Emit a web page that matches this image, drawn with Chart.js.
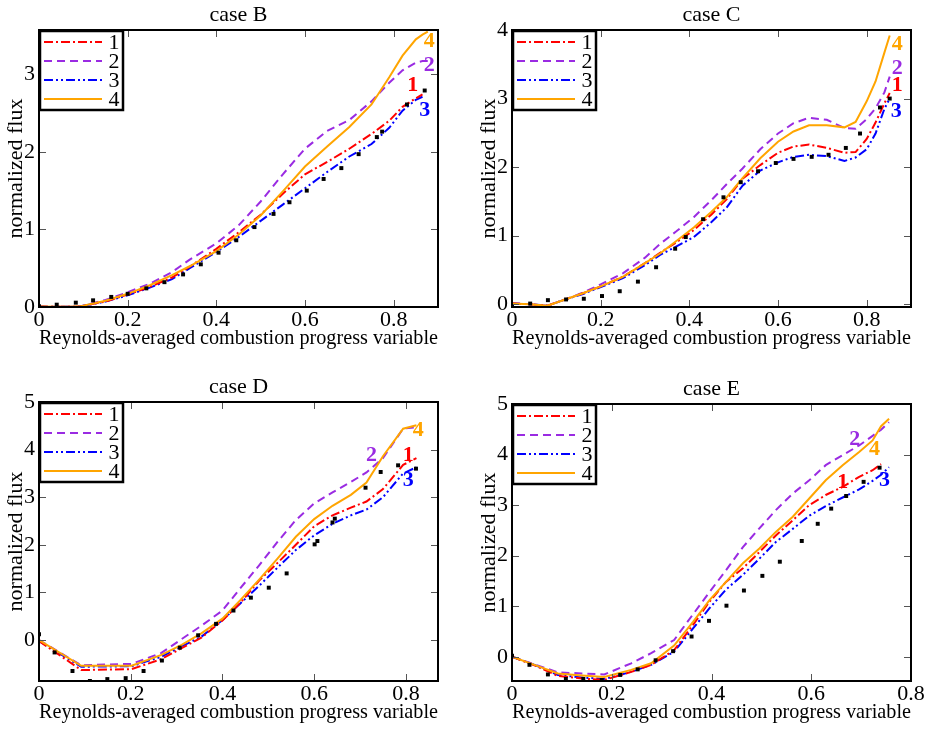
<!DOCTYPE html>
<html>
<head>
<meta charset="utf-8">
<script src="https://cdn.jsdelivr.net/npm/chart.js@4.4.1/dist/chart.umd.min.js"></script>
<style>
  body { margin: 0; background: #fff; }
  .wrap { position: relative; width: 937px; height: 729px; background: #fff; }
  .cell { position: absolute; }
</style>
</head>
<body>
<div class="wrap">
  <div class="cell" style="left:0;top:0"><canvas id="caseB" width="468" height="365"></canvas></div>
  <div class="cell" style="left:468px;top:0"><canvas id="caseC" width="469" height="365"></canvas></div>
  <div class="cell" style="left:0;top:365px"><canvas id="caseD" width="468" height="364"></canvas></div>
  <div class="cell" style="left:468px;top:365px"><canvas id="caseE" width="469" height="364"></canvas></div>
</div>
<script>
const serif = "'Liberation Serif', 'Times New Roman', serif";
Chart.defaults.font.family = serif;
Chart.defaults.color = "#000";

const seriesNames = ["1", "2", "3", "4"];
const seriesColors = ["#ff0000", "#9a2be2", "#0000ff", "#ffa500"];
const seriesDashes = [[9, 3, 2, 3], [8, 5], [9, 3, 2, 3, 2, 3], []];

// case B
const xB = [0, 0.05, 0.09, 0.15, 0.2, 0.25, 0.3, 0.34, 0.4, 0.45, 0.5, 0.55, 0.6, 0.65, 0.7, 0.75, 0.79, 0.82, 0.85, 0.865, 0.877];
const b1 = [0.005, 0.003, 0.005, 0.07, 0.16, 0.26, 0.38, 0.52, 0.75, 0.96, 1.19, 1.46, 1.71, 1.87, 2.04, 2.23, 2.40, 2.58, 2.69, 2.74, null];
const b2 = [0.005, 0.004, 0.005, 0.09, 0.19, 0.30, 0.45, 0.61, 0.82, 1.05, 1.36, 1.71, 2.04, 2.27, 2.41, 2.65, 2.89, 3.05, 3.15, 3.17, 3.17];
const b3 = [0.005, 0.003, 0.005, 0.07, 0.15, 0.25, 0.36, 0.50, 0.71, 0.90, 1.11, 1.32, 1.53, 1.74, 1.94, 2.10, 2.31, 2.53, 2.67, 2.71, null];
const b4 = [0.005, 0.003, 0.005, 0.08, 0.17, 0.28, 0.41, 0.525, 0.72, 0.93, 1.18, 1.49, 1.81, 2.07, 2.32, 2.61, 2.96, 3.24, 3.45, 3.51, 3.55];
const refXB = [0, 0.04, 0.083, 0.122, 0.163, 0.2, 0.242, 0.283, 0.325, 0.365, 0.405, 0.445, 0.486, 0.529, 0.565, 0.604, 0.642, 0.682, 0.721, 0.762, 0.774, 0.83, 0.87];
const refYB = [0.01, 0.03, 0.056, 0.086, 0.13, 0.17, 0.24, 0.32, 0.42, 0.55, 0.70, 0.86, 1.03, 1.20, 1.35, 1.50, 1.65, 1.79, 1.97, 2.19, 2.26, 2.61, 2.79];
const tagsB = [[0.843, 2.86], [0.88, 3.12], [0.87, 2.54], [0.88, 3.42]];

// case C
const xC = [0, 0.04, 0.08, 0.12, 0.16, 0.2, 0.25, 0.3, 0.334, 0.37, 0.41, 0.45, 0.484, 0.52, 0.56, 0.6, 0.635, 0.67, 0.71, 0.75, 0.775, 0.8, 0.82, 0.84, 0.852];
const c1 = [0.01, 0.0, -0.02, 0.07, 0.16, 0.26, 0.40, 0.60, 0.75, 0.90, 1.08, 1.31, 1.53, 1.83, 2.03, 2.21, 2.30, 2.33, 2.28, 2.21, 2.22, 2.41, 2.65, 2.93, 3.08];
const c2 = [0.02, 0.0, -0.02, 0.07, 0.17, 0.29, 0.45, 0.68, 0.88, 1.06, 1.27, 1.52, 1.75, 1.98, 2.26, 2.49, 2.64, 2.72, 2.69, 2.57, 2.56, 2.70, 2.86, 3.09, 3.32];
const c3 = [0.01, 0.0, -0.02, 0.07, 0.15, 0.25, 0.38, 0.57, 0.72, 0.84, 0.98, 1.20, 1.41, 1.73, 1.95, 2.07, 2.15, 2.18, 2.16, 2.09, 2.14, 2.26, 2.49, 2.85, 3.0];
const c4 = [0.01, 0.0, -0.02, 0.07, 0.16, 0.26, 0.40, 0.60, 0.74, 0.92, 1.12, 1.35, 1.56, 1.84, 2.13, 2.37, 2.52, 2.61, 2.61, 2.58, 2.66, 2.96, 3.25, 3.67, 3.92];
const refXC = [0, 0.041, 0.081, 0.122, 0.162, 0.203, 0.243, 0.284, 0.325, 0.368, 0.392, 0.431, 0.477, 0.516, 0.555, 0.595, 0.635, 0.676, 0.714, 0.753, 0.785, 0.83, 0.852];
const refYC = [-0.03, 0.01, 0.06, 0.07, 0.08, 0.12, 0.19, 0.33, 0.54, 0.81, 0.98, 1.24, 1.56, 1.78, 1.94, 2.06, 2.12, 2.15, 2.18, 2.28, 2.49, 2.87, 3.0];
const tagsC = [[0.869, 3.20], [0.869, 3.44], [0.867, 2.81], [0.869, 3.79]];

// case D
const xD = [0, 0.092, 0.202, 0.267, 0.311, 0.354, 0.4, 0.44, 0.48, 0.52, 0.56, 0.6, 0.64, 0.68, 0.714, 0.75, 0.794, 0.823];
const d1 = [-0.02, -0.63, -0.61, -0.40, -0.17, 0.05, 0.41, 0.79, 1.25, 1.62, 2.00, 2.39, 2.62, 2.78, 2.91, 3.17, 3.68, 3.82];
const d2 = [0, -0.53, -0.50, -0.27, 0.02, 0.30, 0.62, 1.10, 1.57, 2.06, 2.52, 2.87, 3.10, 3.32, 3.52, 3.82, 4.44, 4.47];
const d3 = [-0.02, -0.56, -0.55, -0.35, -0.13, 0.07, 0.42, 0.78, 1.14, 1.52, 1.89, 2.20, 2.44, 2.62, 2.74, 3.00, 3.50, 3.63];
const d4 = [0, -0.54, -0.54, -0.31, -0.10, 0.14, 0.45, 0.85, 1.27, 1.71, 2.17, 2.54, 2.82, 3.05, 3.31, 3.86, 4.44, 4.51];
const refXD = [0, 0.034, 0.073, 0.111, 0.149, 0.189, 0.228, 0.268, 0.307, 0.347, 0.386, 0.424, 0.462, 0.501, 0.54, 0.601, 0.607, 0.64, 0.645, 0.712, 0.745, 0.783, 0.822];
const refYD = [0.12, -0.26, -0.65, -0.86, -0.82, -0.80, -0.65, -0.43, -0.16, 0.10, 0.34, 0.62, 0.89, 1.10, 1.40, 2.01, 2.08, 2.47, 2.55, 3.20, 3.53, 3.67, 3.60];
const tagsD = [[0.805, 3.88], [0.725, 3.88], [0.805, 3.35], [0.827, 4.40]];

// case E
const xE = [0, 0.045, 0.092, 0.14, 0.185, 0.239, 0.279, 0.325, 0.363, 0.396, 0.429, 0.463, 0.496, 0.529, 0.563, 0.596, 0.629, 0.663, 0.696, 0.723, 0.74, 0.756];
const e1 = [0, -0.17, -0.38, -0.43, -0.46, -0.30, -0.16, 0.13, 0.63, 1.09, 1.48, 1.75, 2.07, 2.40, 2.70, 3.00, 3.20, 3.36, 3.56, 3.69, 3.81, null];
const e2 = [0, -0.15, -0.31, -0.33, -0.35, -0.13, 0.07, 0.33, 0.84, 1.28, 1.71, 2.17, 2.54, 2.90, 3.23, 3.49, 3.79, 3.99, 4.18, 4.37, 4.49, 4.64];
const e3 = [0, -0.16, -0.36, -0.41, -0.44, -0.30, -0.16, 0.10, 0.56, 0.96, 1.33, 1.62, 1.94, 2.27, 2.53, 2.79, 2.98, 3.15, 3.31, 3.48, 3.60, 3.75];
const e4 = [0, -0.16, -0.33, -0.37, -0.40, -0.26, -0.13, 0.22, 0.69, 1.12, 1.48, 1.85, 2.14, 2.47, 2.77, 3.13, 3.49, 3.79, 4.05, 4.28, 4.56, 4.71];
const refXE = [0, 0.035, 0.072, 0.108, 0.143, 0.18, 0.217, 0.252, 0.288, 0.323, 0.36, 0.395, 0.43, 0.465, 0.502, 0.537, 0.581, 0.613, 0.64, 0.67, 0.705, 0.737];
const refYE = [0.02, -0.16, -0.35, -0.44, -0.44, -0.46, -0.36, -0.25, -0.07, 0.11, 0.40, 0.71, 1.01, 1.31, 1.60, 1.88, 2.29, 2.63, 2.93, 3.18, 3.46, 3.74];
const tagsE = [[0.663, 3.46], [0.687, 4.30], [0.747, 3.49], [0.727, 4.10]];

const xTicks = [0, 0.2, 0.4, 0.6, 0.8];
const yTicksB = [0, 1, 2, 3];
const yTicksC = [0, 1, 2, 3, 4];
const yTicksDE = [0, 1, 2, 3, 4, 5];

const xTitle = "Reynolds-averaged combustion progress variable";
const yTitle = "normalized flux";

// drawn on top: frame, inward ticks, title, legend box and curve tags
const framePlugin = {
  id: "frame",
  afterDraw(chart) {
    const { ctx, chartArea: a, scales: { x, y } } = chart;
    const opts = chart.options.plugins.frame;
    ctx.save();
    ctx.strokeStyle = "#555";
    ctx.lineWidth = 1;
    ctx.beginPath();
    x.ticks.forEach(t => {
      const px = Math.round(x.getPixelForValue(t.value)) + 0.5;
      ctx.moveTo(px, a.bottom); ctx.lineTo(px, a.bottom - 7);
      ctx.moveTo(px, a.top); ctx.lineTo(px, a.top + 7);
    });
    y.ticks.forEach(t => {
      const py = Math.round(y.getPixelForValue(t.value)) + 0.5;
      ctx.moveTo(a.left, py); ctx.lineTo(a.left + 7, py);
      ctx.moveTo(a.right, py); ctx.lineTo(a.right - 7, py);
    });
    ctx.stroke();

    ctx.strokeStyle = "#000";
    ctx.lineWidth = 2;
    ctx.strokeRect(a.left, a.top, a.right - a.left, a.bottom - a.top);

    ctx.fillStyle = "#000";
    ctx.font = "22px " + serif;
    ctx.textAlign = "center";
    ctx.textBaseline = "middle";
    ctx.fillText(opts.title, (a.left + a.right) / 2, a.top - 15);

    // legend
    const lx = a.left, ly = a.top;
    ctx.fillStyle = "#fff";
    ctx.fillRect(lx, ly, 84, 80);
    ctx.lineWidth = 2.5;
    ctx.strokeStyle = "#000";
    ctx.strokeRect(lx + 1, ly + 1, 83, 79);
    seriesNames.forEach((name, i) => {
      const ry = ly + 12 + i * 19;
      ctx.strokeStyle = seriesColors[i];
      ctx.lineWidth = 2;
      ctx.setLineDash(seriesDashes[i]);
      ctx.beginPath();
      ctx.moveTo(lx + 5, ry);
      ctx.lineTo(lx + 63, ry);
      ctx.stroke();
      ctx.setLineDash([]);
      ctx.fillStyle = "#000";
      ctx.font = "22px " + serif;
      ctx.fillText(name, lx + 75, ry + 1);
    });

    ctx.font = "bold 22px " + serif;
    opts.tags.forEach((p, i) => {
      ctx.fillStyle = seriesColors[i];
      ctx.fillText(seriesNames[i], x.getPixelForValue(p[0]), y.getPixelForValue(p[1]));
    });
    ctx.restore();
  }
};

const buildChart = (id, title, xs, lines, refX, refY, yTicks, xMax, yMin, yMax, tags, frame) => {
  const canvas = document.getElementById(id);
  const W = canvas.width, H = canvas.height;
  const lineSets = lines.map((vals, i) => ({
    label: seriesNames[i],
    data: xs.map((v, k) => ({ x: v, y: vals[k] })).filter(p => p.y !== null),
    showLine: true,
    borderColor: seriesColors[i],
    borderDash: seriesDashes[i],
    borderWidth: 2,
    pointRadius: 0,
    tension: 0,
    fill: false
  }));
  const refSet = {
    label: "reference",
    data: refX.map((v, k) => ({ x: v, y: refY[k] })),
    showLine: false,
    pointStyle: "rect",
    pointRadius: 2.8,
    backgroundColor: "#000",
    borderWidth: 0
  };
  return new Chart(canvas, {
    type: "scatter",
    data: { datasets: [refSet, lineSets[3], lineSets[0], lineSets[1], lineSets[2]] },
    options: {
      responsive: false,
      animation: false,
      layout: { padding: { left: 0, top: frame.top, right: W - frame.right, bottom: 0 } },
      plugins: {
        legend: { display: false },
        tooltip: { enabled: false },
        frame: { title: title, tags: tags }
      },
      scales: {
        x: {
          type: "linear",
          min: 0,
          max: xMax,
          grid: { display: false, drawTicks: false },
          border: { display: false },
          afterBuildTicks: s => { s.ticks = xTicks.map(v => ({ value: v })); },
          afterFit: s => { s.height = H - frame.bottom; },
          ticks: { font: { size: 22 }, padding: 0, maxRotation: 0, callback: v => String(v) },
          title: {
            display: true,
            text: xTitle,
            font: { size: 22 },
            padding: { top: 0, bottom: H - frame.bottom - 31.5 - 13.2 }
          }
        },
        y: {
          type: "linear",
          min: yMin,
          max: yMax,
          grid: { display: false, drawTicks: false },
          border: { display: false },
          afterBuildTicks: s => { s.ticks = yTicks.map(v => ({ value: v })); },
          afterFit: s => { s.width = frame.left; },
          ticks: { font: { size: 22 }, padding: 4, callback: v => String(v) },
          title: {
            display: true,
            text: yTitle,
            font: { size: 22 },
            padding: { top: frame.left - 22.5 - 13.2, bottom: 0 }
          }
        }
      }
    },
    plugins: [framePlugin]
  });
};

buildChart("caseB", "case B", xB, [b1, b2, b3, b4], refXB, refYB, yTicksB, 0.9, 0, 3.57, tagsB,
  { left: 39, top: 30, right: 438, bottom: 307 });
buildChart("caseC", "case C", xC, [c1, c2, c3, c4], refXC, refYC, yTicksC, 0.9, -0.04, 4, tagsC,
  { left: 44, top: 30, right: 443, bottom: 307 });
buildChart("caseD", "case D", xD, [d1, d2, d3, d4], refXD, refYD, yTicksDE, 0.87, -0.86, 5, tagsD,
  { left: 39, top: 37, right: 438, bottom: 316 });
buildChart("caseE", "case E", xE, [e1, e2, e3, e4], refXE, refYE, yTicksDE, 0.8, -0.48, 5, tagsE,
  { left: 44, top: 39, right: 443, bottom: 316 });
</script>
</body>
</html>
